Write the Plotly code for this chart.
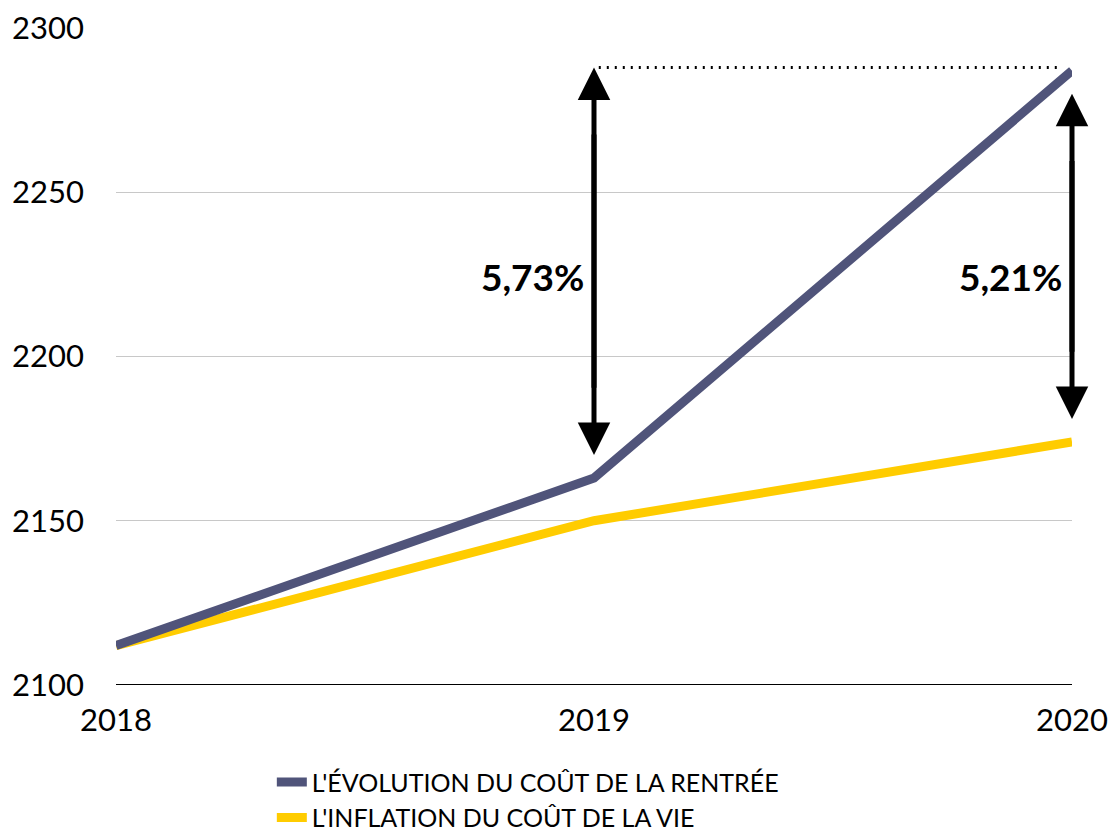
import plotly.graph_objects as go

years = [2018, 2019, 2020]
rentree = [2112, 2163, 2287]
inflation = [2112, 2150, 2174]
series_names = ["L'ÉVOLUTION DU COÛT DE LA RENTRÉE", "L'INFLATION DU COÛT DE LA VIE"]
pct_labels = ["5,73%", "5,21%"]
y_ticks = [2100, 2150, 2200, 2250, 2300]

BLUE = "#50547a"
YELLOW = "#ffcc00"
FONT = "Lato"

fig = go.Figure()
fig.add_trace(go.Scatter(x=years, y=inflation, mode="lines", name=series_names[1],
                         line=dict(color=YELLOW, width=9), cliponaxis=False))
fig.add_trace(go.Scatter(x=years, y=rentree, mode="lines", name=series_names[0],
                         line=dict(color=BLUE, width=9), cliponaxis=False))

# double-headed arrows: two overlapping single-headed annotations each
arrow_specs = [
    (2019, 2170, rentree[2] + 1),
    (2020, 2181, 2280),
]
for xa, lo, hi in arrow_specs:
    for tip, tail in ((lo, hi - 20), (hi, lo + 20)):
        fig.add_annotation(x=xa, y=tip, ax=xa, ay=tail, axref="x", ayref="y",
                           xref="x", yref="y", text="", showarrow=True,
                           arrowhead=2, arrowsize=1.3, arrowwidth=5, arrowcolor="black")

fig.add_shape(type="line", x0=2019.01, x1=2019.97, y0=rentree[2] + 1, y1=rentree[2] + 1,
              xref="x", yref="y", line=dict(color="black", width=3, dash="2px,6px"))

for xa, lab in zip([2019, 2020], pct_labels):
    fig.add_annotation(x=xa, y=2224.5, xref="x", yref="y", text=f"<b>{lab}</b>",
                       showarrow=False, xanchor="right", xshift=-8,
                       font=dict(family=FONT, size=37, color="black"))

fig.update_layout(
    width=1111, height=832,
    margin=dict(l=116, r=39, t=28, b=147, autoexpand=False),
    plot_bgcolor="white", paper_bgcolor="white",
    font=dict(family=FONT, color="black"),
    showlegend=True,
    legend=dict(orientation="v", x=0.163, xanchor="left", y=-0.113, yanchor="top",
                font=dict(family=FONT, size=25, color="black"),
                traceorder="reversed", itemwidth=30, tracegroupgap=0),
)
fig.update_xaxes(range=[2018, 2020], tickvals=years, ticktext=[str(y) for y in years],
                 showgrid=False, zeroline=False, showline=False, ticklabelstandoff=14,
                 tickfont=dict(family=FONT, size=31, color="black"))
fig.update_yaxes(range=[2100, 2300], tickvals=y_ticks, showgrid=True, gridcolor="#c8c8c8",
                 gridwidth=1, zeroline=False, showline=False, ticklabelstandoff=31,
                 tickfont=dict(family=FONT, size=31, color="black"))
fig.add_shape(type="line", xref="paper", yref="y", x0=0, x1=1, y0=2100, y1=2100,
              line=dict(color="black", width=2))

fig.write_html("out.html", config={"displayModeBar": False},
               post_script="document.body.style.margin='0';document.body.style.overflow='hidden';")
